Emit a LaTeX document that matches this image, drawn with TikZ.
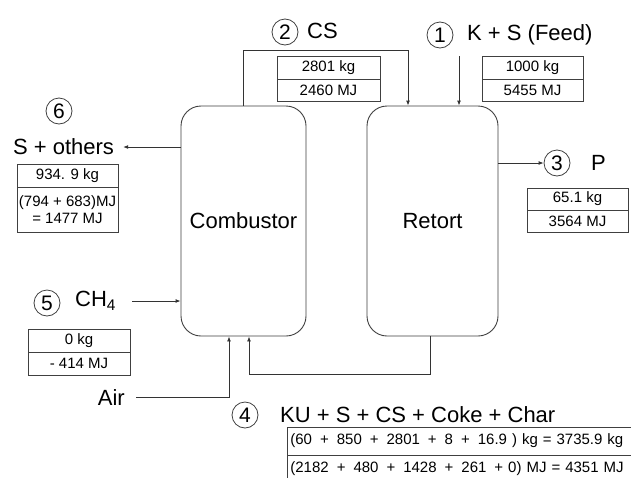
\documentclass[tikz,border=0pt]{standalone}
\usepackage{fontspec}
\setmainfont{Liberation Sans}
\usetikzlibrary{arrows.meta}
\newcommand\gp{\hspace{8pt}}
\begin{document}
\begin{tikzpicture}[x=1pt,y=-1pt,
  proc/.style={draw=black!75, rounded corners=20pt, line width=0.9pt, inner sep=0pt,
    font=\fontsize{22}{24}\selectfont},
  num/.style={circle, draw=black!75, line width=0.8pt, minimum size=26pt, inner sep=0pt,
    font=\fontsize{21}{21}\selectfont},
  lbl/.style={font=\fontsize{22}{24}\selectfont, inner sep=0pt},
  cell/.style={draw=black!75, line width=0.8pt, inner sep=0pt, font=\fontsize{15}{17}\selectfont},
  cellL/.style={cell, anchor=west, inner xsep=3pt, text width=374pt, align=left, minimum height=28pt},
  flow/.style={draw=black!80, line width=0.9pt},
  arr/.style={flow, -{Latex[length=5pt,width=4pt]}}]
\clip (0,0) rectangle (631,477);
\fill[white] (0,0) rectangle (631,477);
% process units
\node[proc, minimum width=125pt, minimum height=230pt] (comb) at (243.5,221) {Combustor};
\node[proc, minimum width=131pt, minimum height=230pt] (ret) at (432.5,221) {Retort};
% stream 2 CS
\node[num] (c2) at (285,32) {2};
\node[lbl, anchor=west] (cs) at (307,31) {CS};
\node[cell, minimum width=103pt, minimum height=23pt] (t2a) at (328.5,67.5) {2801 kg};
\node[cell, minimum width=103pt, minimum height=22pt] (t2b) at (328.5,90) {2460 MJ};
\coordinate (cstop) at (408,50);
\draw[arr] (comb.north) |- (cstop) -- (cstop |- ret.north);
% stream 1 feed
\node[num] (c1) at (440,35) {1};
\node[lbl, anchor=west] (feed) at (467,35) {K + S (Feed)};
\node[cell, minimum width=101pt, minimum height=23pt] (t1a) at (532.5,67.5) {1000 kg};
\node[cell, minimum width=101pt, minimum height=22pt] (t1b) at (532.5,90) {5455 MJ};
\coordinate (feedtop) at (459,56);
\draw[arr] (feedtop) -- (feedtop |- ret.north);
% stream 3 P
\node[num] (c3) at (557,163) {3};
\node[lbl, anchor=west] (p) at (591,163) {P};
\node[cell, minimum width=101pt, minimum height=22pt] (t3a) at (577.5,199) {65.1 kg};
\node[cell, minimum width=101pt, minimum height=22pt] (t3b) at (577.5,221) {3564 MJ};
\draw[arr] (ret.east |- c3) -- (c3.west);
% stream 6
\node[num] (c6) at (59,111) {6};
\node[lbl] (so) at (63.5,147) {S + others};
\node[cell, minimum width=101pt, minimum height=23pt] (t6a) at (67.5,175.5) {934. 9 kg};
\node[cell, minimum width=101pt, minimum height=45pt, align=center] (t6b) at (67.5,209.5) {(794 + 683)MJ\\= 1477 MJ};
\draw[arr] (comb.west |- 0,147) -- ([xshift=9pt]so.east);
% stream 5 CH4
\node[num] (c5) at (47,303) {5};
\node[lbl, anchor=west] (ch4) at (75,301) {CH\textsubscript{4}};
\node[cell, minimum width=102pt, minimum height=23pt] (t5a) at (79,340.5) {0 kg};
\node[cell, minimum width=102pt, minimum height=23pt] (t5b) at (79,363.5) {- 414 MJ};
\coordinate (ch4s) at (132,301);
\draw[arr] (ch4s) -- (ch4s -| comb.west);
% air
\node[lbl, anchor=east] (air) at (125,398) {Air};
\coordinate (airs) at (136,397);
\draw[arr] (airs) -| ([xshift=-14.5pt]comb.south);
% stream 4
\coordinate (kul) at (249,374);
\draw[arr] ([xshift=-2.5pt]ret.south) |- (kul) -- (kul |- comb.south);
\node[num] (c4) at (245,415) {4};
\node[lbl, anchor=west] (ku) at (280,415) {KU + S + CS + Coke + Char};
\node[cellL] (t4a) at (287,441) {(60\gp+\gp850\gp+\gp2801\gp+\gp8\gp+\gp16.9 ) kg = 3735.9 kg};
\node[cellL] (t4b) at (287,469) {(2182\gp+\gp480\gp+\gp1428\gp+\gp261\gp+ 0) MJ = 4351 MJ};
\end{tikzpicture}
\end{document}
